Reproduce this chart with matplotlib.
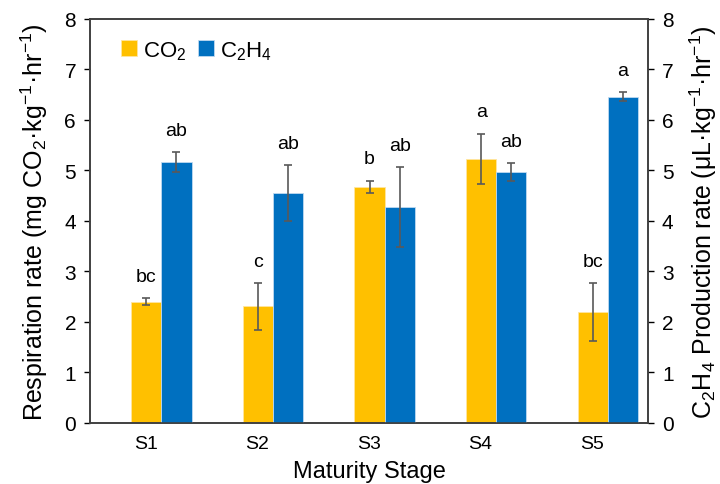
import numpy as np
import matplotlib
matplotlib.use("Agg")
import matplotlib.pyplot as plt

plt.rcParams["font.family"] = ["Liberation Sans", "DejaVu Sans"]
plt.rcParams["mathtext.fontset"] = "custom"
plt.rcParams["mathtext.rm"] = "Liberation Sans"
plt.rcParams["mathtext.it"] = "Liberation Sans"

stages = ["S1", "S2", "S3", "S4", "S5"]
co2 = [2.40, 2.31, 4.68, 5.23, 2.20]
co2_err = [0.07, 0.46, 0.12, 0.50, 0.57]
co2_letters = ["bc", "c", "b", "a", "bc"]
c2h4 = [5.17, 4.55, 4.27, 4.97, 6.46]
c2h4_err = [0.20, 0.56, 0.79, 0.17, 0.09]
c2h4_letters = ["ab", "ab", "ab", "ab", "a"]

x = np.arange(len(stages))
w = 0.27
off = 0.005

fig = plt.figure(figsize=(7.2, 4.85), dpi=100)
ax = fig.add_axes([0.125, 0.1258, 0.775, 0.833])
ax2 = ax.twinx()

err_kw = dict(ecolor="#595959", elinewidth=1.2, capsize=3, capthick=1.2)
b1 = ax.bar(x + off, co2, w, yerr=co2_err, color="#FFC000",
            edgecolor="#FFE6A0", linewidth=0.6, error_kw=err_kw, label="CO$_2$")
b2 = ax2.bar(x + off + w, c2h4, w, yerr=c2h4_err, color="#0070C0",
             edgecolor="#BFD9F0", linewidth=0.6, error_kw=err_kw, label="C$_2$H$_4$")

for i in range(len(stages)):
    ax.text(x[i] + off, co2[i] + co2_err[i] + 0.26, co2_letters[i],
            ha="center", va="bottom", fontsize=14)
    ax2.text(x[i] + off + w, c2h4[i] + c2h4_err[i] + 0.26, c2h4_letters[i],
             ha="center", va="bottom", fontsize=14)

for a in (ax, ax2):
    a.set_ylim(0, 8)
    a.set_yticks(range(0, 9))
    a.tick_params(axis="y", labelsize=15, length=4, width=1, direction="out", pad=6)
    for s in a.spines.values():
        s.set_color("#404040")
        s.set_linewidth(1.2)

ax.set_xlim(-0.5, 4.5)
ax.set_xticks(x)
ax.set_xticklabels(stages, fontsize=14)
ax.tick_params(axis="x", length=0, pad=9)

ax.set_ylabel("Respiration rate (mg CO$_2$·kg$^{-1}$·hr$^{-1}$)", fontsize=18, labelpad=10)
ax2.set_ylabel("C$_2$H$_4$ Production rate (μL·kg$^{-1}$·hr$^{-1}$)", fontsize=18, labelpad=10)
fig.text(0.5125, 0.004, "Maturity Stage", fontsize=17, ha="center", va="bottom")

ax.legend(handles=[b1, b2], loc="upper left", bbox_to_anchor=(0.02, 1.0), ncol=2,
          frameon=False, fontsize=16, handlelength=0.7, handleheight=0.7,
          handletextpad=0.3, columnspacing=0.5)

fig.savefig("out.png", dpi=100)
